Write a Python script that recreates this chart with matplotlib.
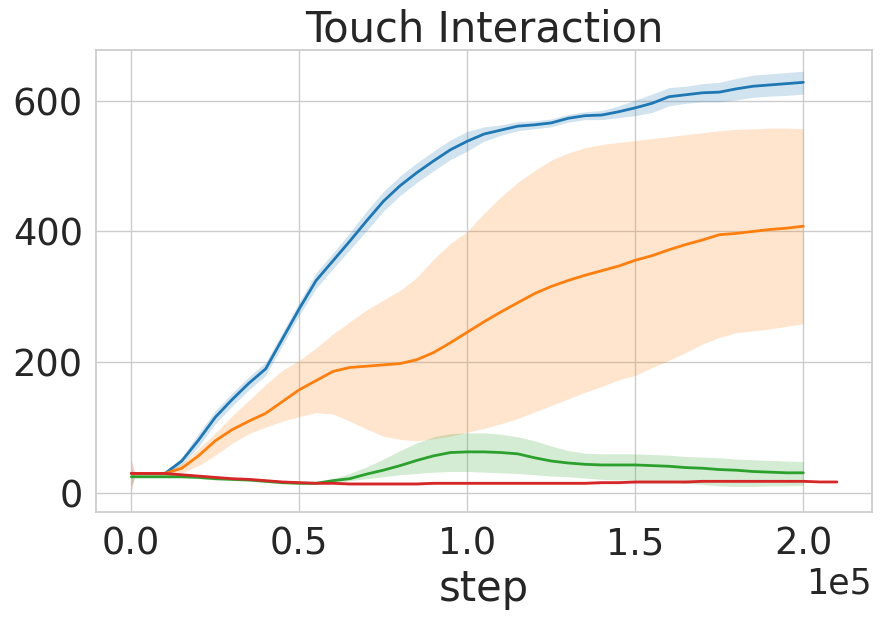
import numpy as np
import matplotlib
matplotlib.use("Agg")
import matplotlib.pyplot as plt
import seaborn as sns

# sampled steps (every 5k, plus one early point)
steps = [0, 1000] + list(range(5000, 200001, 5000))
red_steps = steps + [205000, 210000]

blue_mean = [30, 30, 30, 30, 49, 81, 116, 143, 168, 190, 236, 282, 325, 355, 385, 416, 446,
             470, 490, 508, 525, 538, 549, 555, 561, 563, 566, 573, 577, 578, 583, 589, 596,
             606, 609, 612, 613, 618, 622, 624, 626, 628]
blue_lo = [28, 28, 28, 28, 43, 71, 106, 133, 158, 180, 226, 272, 313, 343, 372, 401, 431,
           455, 475, 493, 510, 523, 538, 547, 554, 557, 560, 567, 571, 571, 574, 577, 582,
           592, 596, 598, 598, 601, 605, 607, 608, 610]
blue_hi = [32, 32, 32, 32, 55, 91, 126, 153, 178, 200, 246, 292, 337, 367, 398, 431, 461,
           485, 505, 523, 540, 553, 560, 563, 568, 569, 572, 579, 583, 585, 592, 601, 610,
           620, 622, 626, 628, 634, 639, 641, 643, 645]

orange_mean = [30, 30, 30, 30, 38, 57, 80, 97, 110, 122, 140, 158, 172, 186, 192, 194, 196,
               198, 204, 215, 230, 246, 262, 277, 291, 305, 316, 325, 333, 340, 347, 356, 363,
               372, 380, 387, 395, 397, 400, 403, 405, 408]
orange_lo = [30, 30, 29, 28, 31, 42, 58, 76, 91, 101, 110, 117, 123, 121, 110, 98, 87,
             82, 80, 83, 87, 93, 99, 106, 114, 124, 134, 144, 154, 163, 173, 180, 192,
             203, 215, 228, 238, 245, 248, 251, 255, 259]
orange_hi = [30, 30, 31, 32, 45, 68, 92, 118, 142, 166, 188, 203, 222, 243, 262, 280, 295,
             310, 330, 358, 382, 400, 428, 453, 475, 493, 509, 520, 528, 533, 536, 539, 542,
             545, 548, 551, 554, 556, 557, 558, 558, 557]

green_mean = [25, 25, 25, 25, 25, 24, 22, 21, 20, 18, 16, 15, 15, 19, 22, 29, 35,
              42, 50, 57, 62, 63, 63, 62, 60, 54, 49, 46, 44, 43, 43, 43, 42,
              41, 39, 38, 36, 35, 33, 32, 31, 31]
green_lo = [12, 23, 23, 23, 23, 22, 20, 19, 18, 16, 14, 13, 13, 16, 19, 22, 25,
            28, 30, 32, 33, 33, 32, 31, 30, 28, 26, 25, 23, 21, 20, 20, 18,
            17, 15, 13, 11, 10, 10, 11, 11, 12]
green_hi = [38, 27, 27, 27, 27, 26, 24, 23, 22, 20, 18, 17, 17, 22, 30, 40, 52,
            65, 77, 86, 91, 92, 92, 90, 86, 80, 72, 65, 61, 60, 60, 60, 59,
            58, 56, 55, 54, 52, 51, 50, 49, 48]

red_mean = [30, 30, 30, 30, 28, 26, 24, 22, 21, 19, 17, 16, 15, 15, 14, 14, 14,
            14, 14, 15, 15, 15, 15, 15, 15, 15, 15, 15, 15, 16, 16, 17, 17,
            17, 17, 18, 18, 18, 18, 18, 18, 18, 17, 17]
red_lo = [3, 28, 28, 28, 26, 24, 22, 20, 19, 17, 15, 14, 13, 13, 12, 12, 12,
          12, 12, 13, 13, 13, 13, 13, 13, 13, 13, 13, 13, 14, 14, 15, 15,
          15, 15, 16, 16, 16, 16, 16, 16, 16, 17, 17]
red_hi = [50, 32, 32, 32, 30, 28, 26, 24, 23, 21, 19, 18, 17, 17, 16, 16, 16,
          16, 16, 17, 17, 17, 17, 17, 17, 17, 17, 17, 17, 18, 18, 19, 19,
          19, 19, 20, 20, 20, 20, 20, 20, 20, 17, 17]

sns.set_theme(style="whitegrid")

fig, ax = plt.subplots(figsize=(8.81, 6.2), dpi=100)
fig.subplots_adjust(left=0.109, right=0.990, top=0.919, bottom=0.174)

series = [
    (steps, blue_mean, blue_lo, blue_hi, "tab:blue"),
    (steps, orange_mean, orange_lo, orange_hi, "tab:orange"),
    (steps, green_mean, green_lo, green_hi, "tab:green"),
    (red_steps, red_mean, red_lo, red_hi, "tab:red"),
]
for x, m, lo, hi, c in series:
    ax.fill_between(x, lo, hi, color=c, alpha=0.2, linewidth=0)
    ax.plot(x, m, color=c, linewidth=2)

ax.set_title("Touch Interaction", fontsize=30)
ax.set_xlabel("step", fontsize=30)
ax.tick_params(labelsize=26.5)
ax.ticklabel_format(axis="x", style="sci", scilimits=(0, 0))
ax.xaxis.get_offset_text().set_fontsize(25)
ax.set_yticks([0, 200, 400, 600])

fig.savefig("out.png")
